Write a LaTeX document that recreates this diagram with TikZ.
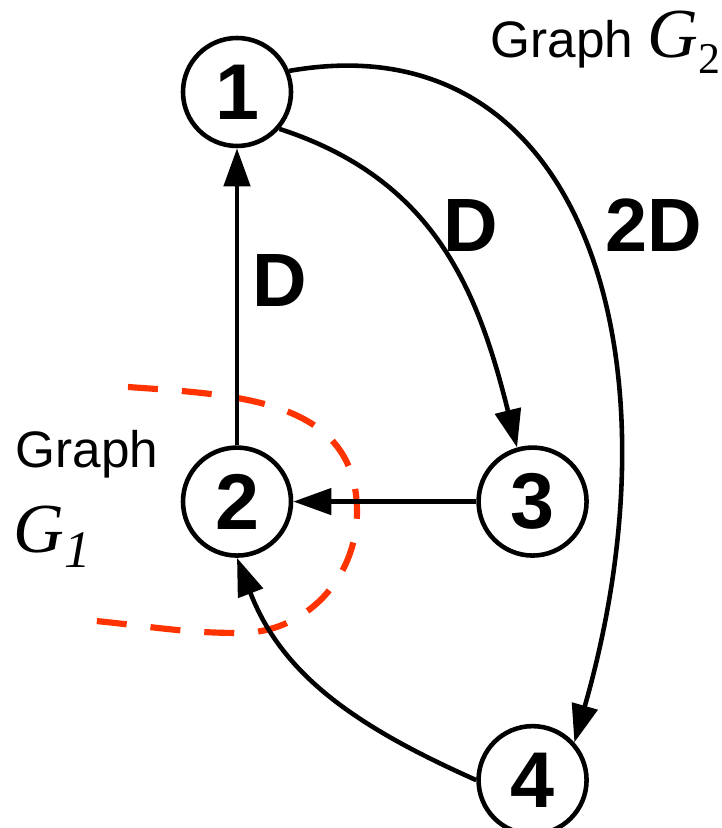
\documentclass[tikz,border=0pt]{standalone}
\usepackage{fontspec}
\setmainfont{Liberation Sans}
\newfontfamily\timesfont{Liberation Serif}
\usepackage{tikz}
\usetikzlibrary{
  arrows.meta,
  positioning
}
\definecolor{cutred}{RGB}{255,51,0}
\tikzset{
  vertex/.style={circle,draw,line width=1.3pt,fill=white,
    minimum size=10.8mm,inner sep=0pt,
    font=\fontsize{22.5}{27}\selectfont\bfseries},
  delay/.style={font=\fontsize{21.5}{26}\selectfont\bfseries,
    inner sep=0pt,anchor=base west},
  caption/.style={font=\fontsize{14.6}{17}\selectfont,
    inner sep=0pt,anchor=base west},
  wire/.style={-{Triangle[length=3.8mm,width=2.6mm]},line width=1.3pt},
  cut/.style={draw=cutred,line width=1.75pt,dash pattern=on 3mm off 2.4mm}
}
\newcommand{\gname}[2]{{\timesfont\fontsize{20}{24}\selectfont\itshape #1}#2}

\begin{document}
\begin{tikzpicture}
  \useasboundingbox (0,0) rectangle (7.22,8.28);
  % subgraph boundary
  \draw[cut] (1.28,4.41) to[out=-4,in=90,looseness=1.1] (3.57,3.16)
    to[out=-90,in=0] (2.40,1.95) to[out=180,in=-5] (0.85,2.08);
  \node[vertex] (one) at (2.37,7.36) {1};
  \node[vertex,below=2.97cm of one] (two) {2};
  \node[vertex,right=1.83cm of two] (three) {3};
  \node[vertex,below=1.66cm of three] (four) {4};
  \draw[wire] (two)--(one);
  \draw[wire] (three)--(two);
  \draw[wire] (one.-41) to[out=-18,in=104,looseness=1.05] (three.106);
  \draw[wire] (one.22) .. controls +(10:3) and +(74:4) .. (four.42);
  \draw[wire] (four.180) to[out=156,in=-69] (two.south);
  \node[delay] (dleft) at (2.52,5.21) {D};
  \node[delay] (dmid) at (4.43,5.76) {D};
  \node[delay] (dright) at (6.05,5.76) {2D};
  \node[caption] (capone) at (0.15,3.60) {Graph};
  \node[caption] (gone) at (0.13,2.75)
    {\gname{G}{\raisebox{-0.28em}{\timesfont\itshape\fontsize{15}{15}\selectfont 1}}};
  \node[caption] (captwo) at (4.90,7.70)
    {Graph \gname{G}{\raisebox{-0.3em}{\timesfont\fontsize{12.5}{13}\selectfont 2}}};
\end{tikzpicture}
\end{document}
